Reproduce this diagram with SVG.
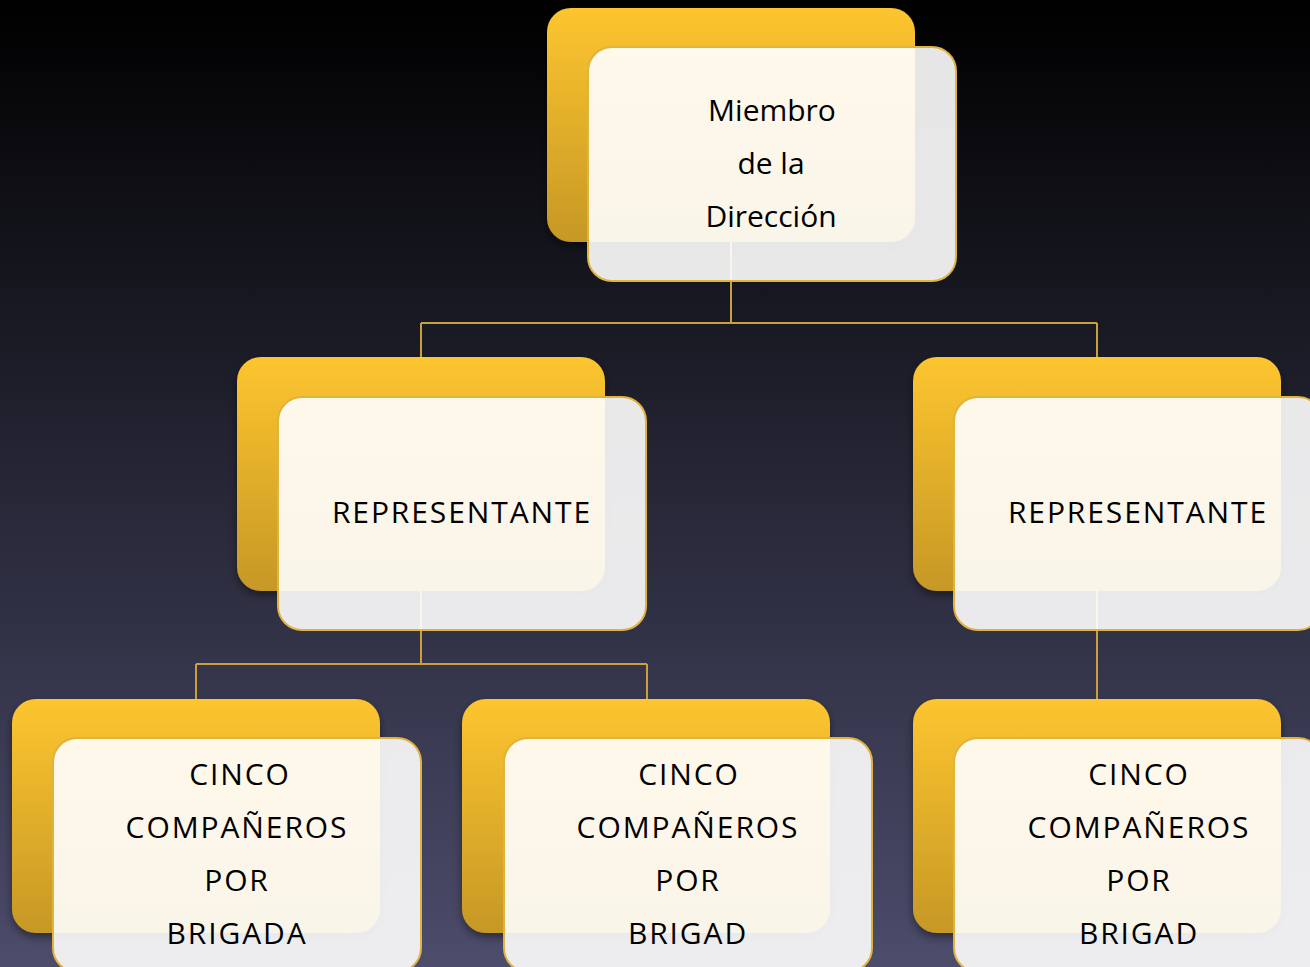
<svg xmlns="http://www.w3.org/2000/svg" width="1310" height="967" viewBox="0 0 1310 967">
<defs>
<linearGradient id="bg" x1="0" y1="0" x2="0" y2="1">
<stop offset="0" stop-color="#000000"/>
<stop offset="1" stop-color="#4c4c6c"/>
</linearGradient>
<linearGradient id="gold" x1="0" y1="0" x2="0" y2="1">
<stop offset="0" stop-color="#fdc52f"/>
<stop offset="1" stop-color="#c69826"/>
</linearGradient>
<filter id="sh" x="-10%" y="-10%" width="130%" height="130%">
<feDropShadow dx="0" dy="4" stdDeviation="4" flood-color="#000" flood-opacity="0.45"/>
</filter>
<style>
.y{fill:url(#gold);filter:url(#sh)}
.l{fill:#ffffff;fill-opacity:0.9;stroke:#e0b23e;stroke-width:2}
.c{fill:none;stroke:#c9a03a;stroke-width:2}
.t{font-family:"Open Sans","Noto Sans",sans-serif;font-size:30px;fill:#000;text-anchor:middle}
.u{letter-spacing:1.9px}
</style>
</defs>
<rect width="1310" height="967" fill="url(#bg)"/>
<g id="n1-back"><rect class="y" x="547" y="8" width="368" height="234" rx="24"/></g>
<g id="n2-back"><rect class="y" x="237" y="357" width="368" height="234" rx="24"/></g>
<g id="n3-back"><rect class="y" x="913" y="357" width="368" height="234" rx="24"/></g>
<g id="n4-back"><rect class="y" x="12" y="699" width="368" height="234" rx="24"/></g>
<g id="n5-back"><rect class="y" x="462" y="699" width="368" height="234" rx="24"/></g>
<g id="n6-back"><rect class="y" x="913" y="699" width="368" height="234" rx="24"/></g>
<g id="connectors">
<path class="c" d="M731 242 V323 M421 323 H1097 M421 323 V357 M1097 323 V357"/>
<path class="c" d="M421 591 V664 M196 664 H647 M196 664 V699 M647 664 V699"/>
<path class="c" d="M1097 591 V699"/>
</g>
<g id="n1">
<rect class="l" x="588" y="47" width="368" height="234" rx="24"/>
<text class="t" x="772" y="121">Miembro</text>
<text class="t" x="771" y="174">de la</text>
<text class="t" x="771" y="227">Dirección</text>
</g>
<g id="n2">
<rect class="l" x="278" y="397" width="368" height="233" rx="24"/>
<text class="t u" x="462" y="523">REPRESENTANTE</text>
</g>
<g id="n3">
<rect class="l" x="954" y="397" width="368" height="233" rx="24"/>
<text class="t u" x="1138" y="523">REPRESENTANTE</text>
</g>
<g id="n4">
<rect class="l" x="53" y="738" width="368" height="234" rx="24"/>
<text class="t u" x="240" y="785">CINCO</text>
<text class="t u" x="237" y="838">COMPAÑEROS</text>
<text class="t u" x="237" y="891">POR</text>
<text class="t u" x="237" y="944">BRIGADA</text>
</g>
<g id="n5">
<rect class="l" x="504" y="738" width="368" height="234" rx="24"/>
<text class="t u" x="689" y="785">CINCO</text>
<text class="t u" x="688" y="838">COMPAÑEROS</text>
<text class="t u" x="688" y="891">POR</text>
<text class="t u" x="688" y="944">BRIGAD</text>
</g>
<g id="n6">
<rect class="l" x="954" y="738" width="368" height="234" rx="24"/>
<text class="t u" x="1139" y="785">CINCO</text>
<text class="t u" x="1139" y="838">COMPAÑEROS</text>
<text class="t u" x="1139" y="891">POR</text>
<text class="t u" x="1139" y="944">BRIGAD</text>
</g>
</svg>
